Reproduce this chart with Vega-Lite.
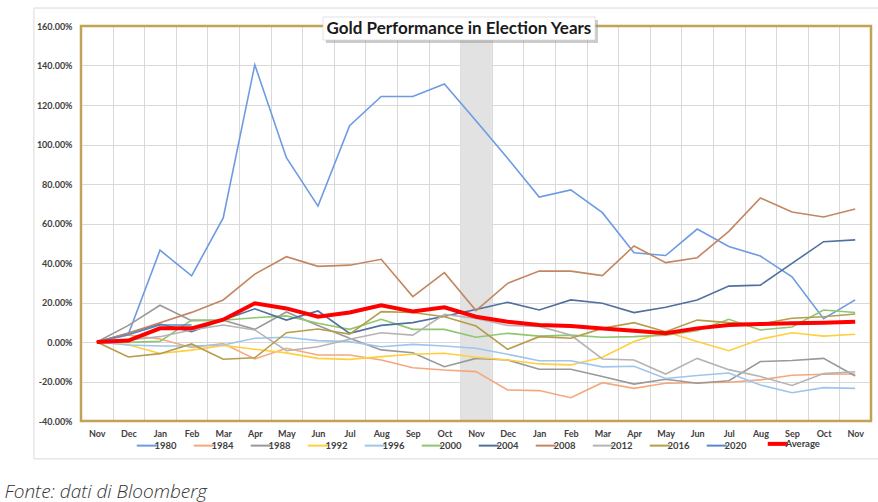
{
  "$schema": "https://vega.github.io/schema/vega-lite/v6.json",
  "width": 790,
  "height": 395,
  "autosize": {"type": "none"},
  "padding": {"left": 81, "top": 26, "right": 7, "bottom": 81},
  "background": "white",
  "config": {"view": {"stroke": null}, "font": "Lato"},
  "datasets": {
    "election": [{"event": "Election", "start": 11.5, "end": 12.5}],
    "gold": [
      {"s":"1980","i":0,"v":0},{"s":"1980","i":1,"v":4},{"s":"1980","i":2,"v":46.5},{"s":"1980","i":3,"v":33.5},{"s":"1980","i":4,"v":62.8},{"s":"1980","i":5,"v":140.4},{"s":"1980","i":6,"v":93.3},{"s":"1980","i":7,"v":68.8},{"s":"1980","i":8,"v":109.5},{"s":"1980","i":9,"v":124.3},{"s":"1980","i":10,"v":124.3},{"s":"1980","i":11,"v":130.6},{"s":"1980","i":12,"v":112},{"s":"1980","i":13,"v":93},{"s":"1980","i":14,"v":73.4},{"s":"1980","i":15,"v":77},{"s":"1980","i":16,"v":65.5},{"s":"1980","i":17,"v":45.2},{"s":"1980","i":18,"v":43.8},{"s":"1980","i":19,"v":57.2},{"s":"1980","i":20,"v":48.4},{"s":"1980","i":21,"v":43.5},{"s":"1980","i":22,"v":33},{"s":"1980","i":23,"v":11.8},{"s":"1980","i":24,"v":21.3},
      {"s":"1984","i":0,"v":0},{"s":"1984","i":1,"v":3.5},{"s":"1984","i":2,"v":1.5},{"s":"1984","i":3,"v":-2.8},{"s":"1984","i":4,"v":-0.8},{"s":"1984","i":5,"v":-8.6},{"s":"1984","i":6,"v":-3.2},{"s":"1984","i":7,"v":-6.6},{"s":"1984","i":8,"v":-6.6},{"s":"1984","i":9,"v":-9.1},{"s":"1984","i":10,"v":-13},{"s":"1984","i":11,"v":-14.2},{"s":"1984","i":12,"v":-15},{"s":"1984","i":13,"v":-24.3},{"s":"1984","i":14,"v":-24.6},{"s":"1984","i":15,"v":-28.2},{"s":"1984","i":16,"v":-20.6},{"s":"1984","i":17,"v":-23.5},{"s":"1984","i":18,"v":-20.9},{"s":"1984","i":19,"v":-20.6},{"s":"1984","i":20,"v":-20.4},{"s":"1984","i":21,"v":-19.2},{"s":"1984","i":22,"v":-16.8},{"s":"1984","i":23,"v":-16.3},{"s":"1984","i":24,"v":-16.2},
      {"s":"1988","i":0,"v":0},{"s":"1988","i":1,"v":8.4},{"s":"1988","i":2,"v":18.6},{"s":"1988","i":3,"v":10.8},{"s":"1988","i":4,"v":11},{"s":"1988","i":5,"v":6.4},{"s":"1988","i":6,"v":15.2},{"s":"1988","i":7,"v":8.4},{"s":"1988","i":8,"v":1.9},{"s":"1988","i":9,"v":-4},{"s":"1988","i":10,"v":-5.4},{"s":"1988","i":11,"v":-12.5},{"s":"1988","i":12,"v":-8.3},{"s":"1988","i":13,"v":-9.1},{"s":"1988","i":14,"v":-13.8},{"s":"1988","i":15,"v":-13.8},{"s":"1988","i":16,"v":-17.5},{"s":"1988","i":17,"v":-21.3},{"s":"1988","i":18,"v":-18.9},{"s":"1988","i":19,"v":-20.9},{"s":"1988","i":20,"v":-19.6},{"s":"1988","i":21,"v":-9.9},{"s":"1988","i":22,"v":-9.4},{"s":"1988","i":23,"v":-8.3},{"s":"1988","i":24,"v":-17.2},
      {"s":"1992","i":0,"v":0},{"s":"1992","i":1,"v":-1.4},{"s":"1992","i":2,"v":-5.8},{"s":"1992","i":3,"v":-4.1},{"s":"1992","i":4,"v":-1.7},{"s":"1992","i":5,"v":-3.7},{"s":"1992","i":6,"v":-5.5},{"s":"1992","i":7,"v":-8.3},{"s":"1992","i":8,"v":-8.8},{"s":"1992","i":9,"v":-7.4},{"s":"1992","i":10,"v":-6.2},{"s":"1992","i":11,"v":-5.7},{"s":"1992","i":12,"v":-7.7},{"s":"1992","i":13,"v":-9.1},{"s":"1992","i":14,"v":-11.1},{"s":"1992","i":15,"v":-11.6},{"s":"1992","i":16,"v":-7.7},{"s":"1992","i":17,"v":0.2},{"s":"1992","i":18,"v":5.2},{"s":"1992","i":19,"v":0.2},{"s":"1992","i":20,"v":-4.4},{"s":"1992","i":21,"v":1.4},{"s":"1992","i":22,"v":4.7},{"s":"1992","i":23,"v":3},{"s":"1992","i":24,"v":3.9},
      {"s":"1996","i":0,"v":0},{"s":"1996","i":1,"v":-1.5},{"s":"1996","i":2,"v":-2},{"s":"1996","i":3,"v":-2},{"s":"1996","i":4,"v":-1.5},{"s":"1996","i":5,"v":1.9},{"s":"1996","i":6,"v":2.4},{"s":"1996","i":7,"v":0.7},{"s":"1996","i":8,"v":0.2},{"s":"1996","i":9,"v":-2.4},{"s":"1996","i":10,"v":-1.2},{"s":"1996","i":11,"v":-2},{"s":"1996","i":12,"v":-3.2},{"s":"1996","i":13,"v":-6.2},{"s":"1996","i":14,"v":-9.5},{"s":"1996","i":15,"v":-9.5},{"s":"1996","i":16,"v":-12.6},{"s":"1996","i":17,"v":-12.3},{"s":"1996","i":18,"v":-18.5},{"s":"1996","i":19,"v":-17},{"s":"1996","i":20,"v":-15.7},{"s":"1996","i":21,"v":-21.8},{"s":"1996","i":22,"v":-25.7},{"s":"1996","i":23,"v":-23.1},{"s":"1996","i":24,"v":-23.5},
      {"s":"2000","i":0,"v":0},{"s":"2000","i":1,"v":-0.2},{"s":"2000","i":2,"v":0.3},{"s":"2000","i":3,"v":11.1},{"s":"2000","i":4,"v":11},{"s":"2000","i":5,"v":12.3},{"s":"2000","i":6,"v":13.2},{"s":"2000","i":7,"v":9.5},{"s":"2000","i":8,"v":6.4},{"s":"2000","i":9,"v":11.5},{"s":"2000","i":10,"v":6.4},{"s":"2000","i":11,"v":6.4},{"s":"2000","i":12,"v":2.4},{"s":"2000","i":13,"v":4.4},{"s":"2000","i":14,"v":3},{"s":"2000","i":15,"v":3.5},{"s":"2000","i":16,"v":2.4},{"s":"2000","i":17,"v":2.7},{"s":"2000","i":18,"v":3.5},{"s":"2000","i":19,"v":5.7},{"s":"2000","i":20,"v":11.5},{"s":"2000","i":21,"v":6.1},{"s":"2000","i":22,"v":7.6},{"s":"2000","i":23,"v":16.2},{"s":"2000","i":24,"v":14.9},
      {"s":"2004","i":0,"v":0},{"s":"2004","i":1,"v":4.4},{"s":"2004","i":2,"v":9.1},{"s":"2004","i":3,"v":5.2},{"s":"2004","i":4,"v":11.1},{"s":"2004","i":5,"v":16.8},{"s":"2004","i":6,"v":11.1},{"s":"2004","i":7,"v":15.7},{"s":"2004","i":8,"v":4.4},{"s":"2004","i":9,"v":8.4},{"s":"2004","i":10,"v":9.8},{"s":"2004","i":11,"v":13},{"s":"2004","i":12,"v":16.5},{"s":"2004","i":13,"v":20.1},{"s":"2004","i":14,"v":16.2},{"s":"2004","i":15,"v":21.3},{"s":"2004","i":16,"v":19.6},{"s":"2004","i":17,"v":14.9},{"s":"2004","i":18,"v":17.6},{"s":"2004","i":19,"v":21.3},{"s":"2004","i":20,"v":28.3},{"s":"2004","i":21,"v":28.8},{"s":"2004","i":22,"v":39.8},{"s":"2004","i":23,"v":50.8},{"s":"2004","i":24,"v":51.7},
      {"s":"2008","i":0,"v":0},{"s":"2008","i":1,"v":4.5},{"s":"2008","i":2,"v":9.8},{"s":"2008","i":3,"v":15},{"s":"2008","i":4,"v":21.3},{"s":"2008","i":5,"v":34.4},{"s":"2008","i":6,"v":43.2},{"s":"2008","i":7,"v":38.3},{"s":"2008","i":8,"v":38.9},{"s":"2008","i":9,"v":41.9},{"s":"2008","i":10,"v":23},{"s":"2008","i":11,"v":35.1},{"s":"2008","i":12,"v":15.9},{"s":"2008","i":13,"v":29.7},{"s":"2008","i":14,"v":35.9},{"s":"2008","i":15,"v":35.9},{"s":"2008","i":16,"v":33.6},{"s":"2008","i":17,"v":48.6},{"s":"2008","i":18,"v":40.2},{"s":"2008","i":19,"v":42.7},{"s":"2008","i":20,"v":56},{"s":"2008","i":21,"v":72.9},{"s":"2008","i":22,"v":65.8},{"s":"2008","i":23,"v":63.3},{"s":"2008","i":24,"v":67.3},
      {"s":"2012","i":0,"v":0},{"s":"2012","i":1,"v":1},{"s":"2012","i":2,"v":2.7},{"s":"2012","i":3,"v":6.1},{"s":"2012","i":4,"v":8.6},{"s":"2012","i":5,"v":6.1},{"s":"2012","i":6,"v":-4.4},{"s":"2012","i":7,"v":-2.4},{"s":"2012","i":8,"v":1.4},{"s":"2012","i":9,"v":4.7},{"s":"2012","i":10,"v":3.5},{"s":"2012","i":11,"v":14},{"s":"2012","i":12,"v":11.9},{"s":"2012","i":13,"v":8.4},{"s":"2012","i":14,"v":7.9},{"s":"2012","i":15,"v":3.5},{"s":"2012","i":16,"v":-8.6},{"s":"2012","i":17,"v":-9.1},{"s":"2012","i":18,"v":-16.2},{"s":"2012","i":19,"v":-8.3},{"s":"2012","i":20,"v":-14},{"s":"2012","i":21,"v":-17.5},{"s":"2012","i":22,"v":-22},{"s":"2012","i":23,"v":-16},{"s":"2012","i":24,"v":-15.1},
      {"s":"2016","i":0,"v":0},{"s":"2016","i":1,"v":-7.6},{"s":"2016","i":2,"v":-5.9},{"s":"2016","i":3,"v":-1},{"s":"2016","i":4,"v":-8.7},{"s":"2016","i":5,"v":-8},{"s":"2016","i":6,"v":4.7},{"s":"2016","i":7,"v":6.6},{"s":"2016","i":8,"v":4},{"s":"2016","i":9,"v":15.4},{"s":"2016","i":10,"v":14.9},{"s":"2016","i":11,"v":12.8},{"s":"2016","i":12,"v":8.1},{"s":"2016","i":13,"v":-3.7},{"s":"2016","i":14,"v":2.7},{"s":"2016","i":15,"v":1.9},{"s":"2016","i":16,"v":6.9},{"s":"2016","i":17,"v":9.8},{"s":"2016","i":18,"v":5.2},{"s":"2016","i":19,"v":11.1},{"s":"2016","i":20,"v":9.8},{"s":"2016","i":21,"v":9.1},{"s":"2016","i":22,"v":12},{"s":"2016","i":23,"v":12.8},{"s":"2016","i":24,"v":14.2},
      {"s":"2020","i":0,"v":0},{"s":"2020","i":1,"v":3.7},{"s":"2020","i":2,"v":8.6},{"s":"2020","i":3,"v":8.6},
      {"s":"Average","i":0,"v":0},{"s":"Average","i":1,"v":0.7},{"s":"Average","i":2,"v":6.9},{"s":"Average","i":3,"v":6.9},{"s":"Average","i":4,"v":11.3},{"s":"Average","i":5,"v":19.6},{"s":"Average","i":6,"v":17},{"s":"Average","i":7,"v":12.8},{"s":"Average","i":8,"v":14.9},{"s":"Average","i":9,"v":18.6},{"s":"Average","i":10,"v":15.5},{"s":"Average","i":11,"v":17.6},{"s":"Average","i":12,"v":12.8},{"s":"Average","i":13,"v":10.3},{"s":"Average","i":14,"v":8.6},{"s":"Average","i":15,"v":8.1},{"s":"Average","i":16,"v":6.8},{"s":"Average","i":17,"v":5.7},{"s":"Average","i":18,"v":4.4},{"s":"Average","i":19,"v":6.9},{"s":"Average","i":20,"v":8.6},{"s":"Average","i":21,"v":9.1},{"s":"Average","i":22,"v":9.5},{"s":"Average","i":23,"v":9.8},{"s":"Average","i":24,"v":10.3}
    ]
  },
  "resolve": {"axis": {"x": "independent", "y": "independent"}},
  "layer": [
    {
      "data": {"values": [{}]},
      "mark": {"type": "rect", "filled": false, "stroke": "#d9d9d9", "strokeWidth": 1},
      "encoding": {
        "x": {"datum": -1.99, "type": "quantitative", "scale": {"domain": [-0.5, 24.5], "nice": false, "zero": false}, "axis": null},
        "x2": {"datum": 26},
        "y": {"datum": 169.1, "type": "quantitative", "scale": {"domain": [-40, 160], "nice": false, "zero": false}, "axis": null},
        "y2": {"datum": -59.2}
      }
    },
    {
      "data": {"name": "election"},
      "mark": {"type": "rect", "color": "#e2e2e2"},
      "encoding": {
        "x": {"field": "start", "type": "quantitative", "scale": {"domain": [-0.5, 24.5], "nice": false, "zero": false},
          "axis": {"orient": "bottom", "values": [-0.5,0.5,1.5,2.5,3.5,4.5,5.5,6.5,7.5,8.5,9.5,10.5,11.5,12.5,13.5,14.5,15.5,16.5,17.5,18.5,19.5,20.5,21.5,22.5,23.5,24.5], "grid": true, "gridColor": "#d9d9d9", "gridWidth": 1, "labels": false, "ticks": false, "domain": false, "title": null}},
        "x2": {"field": "end"},
        "y": {"datum": -40, "type": "quantitative", "scale": {"domain": [-40, 160], "nice": false, "zero": false},
          "axis": {"values": [-40,-20,0,20,40,60,80,100,120,140,160], "grid": true, "gridColor": "#d9d9d9", "gridWidth": 1, "labelExpr": "(datum.value < 0 ? '-' : '') + format(abs(datum.value), '.2f') + '%'", "labelFont": "Lato", "labelFontSize": 9, "labelFontWeight": "bold", "labelColor": "#404040", "labelPadding": 9, "labelOverlap": false, "ticks": false, "domain": false, "title": null}},
        "y2": {"datum": 160}
      }
    },
    {
      "data": {"values": [{}]},
      "mark": {"type": "rect", "filled": false, "stroke": "#c2a356", "strokeWidth": 2.5},
      "encoding": {
        "x": {"datum": -0.5, "type": "quantitative", "scale": {"domain": [-0.5, 24.5], "nice": false, "zero": false}, "axis": null},
        "x2": {"datum": 24.5},
        "y": {"datum": -40, "type": "quantitative", "scale": {"domain": [-40, 160], "nice": false, "zero": false}, "axis": null},
        "y2": {"datum": 160}
      }
    },
    {
      "data": {"name": "gold"},
      "transform": [{"filter": "datum.s !== 'Average'"}],
      "mark": {"type": "line", "strokeWidth": 1.6},
      "encoding": {
        "x": {"field": "i", "type": "quantitative", "scale": {"domain": [-0.5, 24.5], "nice": false, "zero": false},
          "axis": {"orient": "bottom", "values": [0,1,2,3,4,5,6,7,8,9,10,11,12,13,14,15,16,17,18,19,20,21,22,23,24], "labelExpr": "['Nov','Dec','Jan','Feb','Mar','Apr','May','Jun','Jul','Aug','Sep','Oct'][datum.value % 12]", "labelFlush": false, "labelOverlap": false, "grid": false, "ticks": false, "domain": false, "labelFont": "Lato", "labelFontSize": 9, "labelFontWeight": "bold", "labelColor": "#404040", "labelPadding": 8,
            "title": "Fonte: dati di Bloomberg", "titleFont": "Open Sans", "titleFontSize": 19, "titleFontStyle": "italic", "titleFontWeight": 300, "titleColor": "#333333", "titleX": -77, "titleY": 76, "titleAlign": "left", "titleAnchor": "start", "titleBaseline": "alphabetic"}},
        "y": {"field": "v", "type": "quantitative", "scale": {"domain": [-40, 160], "nice": false, "zero": false}, "axis": null},
        "color": {"field": "s", "type": "nominal",
          "scale": {"domain": ["1980","1984","1988","1992","1996","2000","2004","2008","2012","2016","2020","Average"],
                    "range": ["#6c9be3","#f6a77d","#999999","#ffcf3f","#9ec5ec","#8fc672","#50709f","#c38660","#b4b4b4","#b59d4a","#5589c9","#ff0000"]},
          "legend": {"orient": "none", "legendX": 61, "legendY": 413, "direction": "horizontal", "columns": 12, "title": null, "symbolType": "stroke", "symbolSize": 400, "symbolStrokeWidth": 2, "labelFont": "Lato", "labelFontSize": 9.5, "labelFontWeight": "bold", "labelColor": "#404040", "labelOffset": 3, "columnPadding": 12,
            "encode": {"symbols": {"update": {"strokeWidth": {"signal": "datum.value === 'Average' ? 4 : 2"}}}}}}
      }
    },
    {
      "data": {"name": "gold"},
      "transform": [{"filter": "datum.s === 'Average'"}],
      "mark": {"type": "line", "strokeWidth": 4, "color": "#ff0000"},
      "encoding": {
        "x": {"field": "i", "type": "quantitative", "scale": {"domain": [-0.5, 24.5], "nice": false, "zero": false}, "axis": null},
        "y": {"field": "v", "type": "quantitative", "scale": {"domain": [-40, 160], "nice": false, "zero": false}, "axis": null}
      }
    },
    {
      "data": {"values": [{}]},
      "mark": {"type": "rect", "color": "#8c8c8c", "opacity": 0.45},
      "encoding": {
        "x": {"datum": 7.25, "type": "quantitative", "scale": {"domain": [-0.5, 24.5], "nice": false, "zero": false}, "axis": null},
        "x2": {"datum": 15.86},
        "y": {"datum": 163.1, "type": "quantitative", "scale": {"domain": [-40, 160], "nice": false, "zero": false}, "axis": null},
        "y2": {"datum": 151.4}
      }
    },
    {
      "data": {"values": [{}]},
      "mark": {"type": "rect", "color": "#ffffff", "stroke": "#d0d0d0", "strokeWidth": 0.6},
      "encoding": {
        "x": {"datum": 7.16, "type": "quantitative", "scale": {"domain": [-0.5, 24.5], "nice": false, "zero": false}, "axis": null},
        "x2": {"datum": 15.77},
        "y": {"datum": 164.56, "type": "quantitative", "scale": {"domain": [-40, 160], "nice": false, "zero": false}, "axis": null},
        "y2": {"datum": 152.91}
      }
    },
    {
      "data": {"values": [{}]},
      "mark": {"type": "text", "text": "Gold Performance in Election Years", "font": "Lato", "fontSize": 17, "fontWeight": "bold", "color": "#1a1a1a", "align": "center", "baseline": "middle"},
      "encoding": {
        "x": {"datum": 11.46, "type": "quantitative", "scale": {"domain": [-0.5, 24.5], "nice": false, "zero": false}, "axis": null},
        "y": {"datum": 158.6, "type": "quantitative", "scale": {"domain": [-40, 160], "nice": false, "zero": false}, "axis": null}
      }
    }
  ]
}
